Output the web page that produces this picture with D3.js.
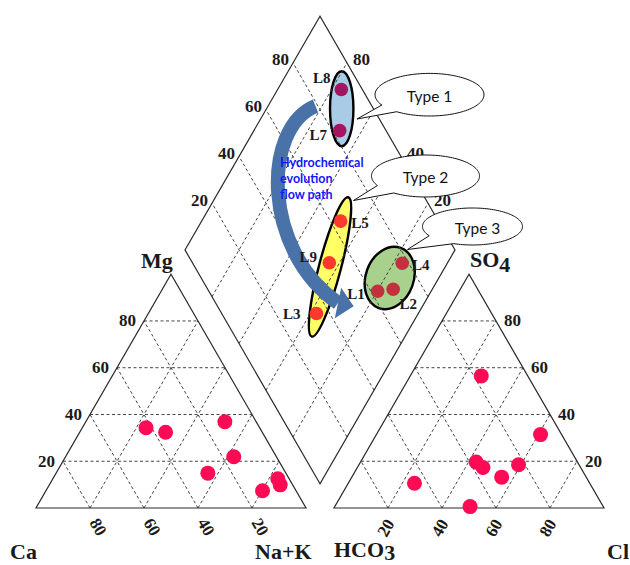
<!DOCTYPE html>
<html>
<head>
<meta charset="utf-8">
<script src="https://cdn.jsdelivr.net/npm/d3@7"></script>
<style>
  html, body { margin: 0; padding: 0; background: #fff; }
  svg { display: block; }
</style>
</head>
<body>
<svg id="chart" width="630" height="565"></svg>
<script>
// ---- sample chemistry (% of meq/L) ----
const samples = ["L1", "L2", "L3", "L4", "L5", "L7", "L8", "L9"];
const waterType = [3, 3, 2, 3, 2, 1, 1, 2];
// cations
const ca  = [12.4,  4.6, 15.8,  4.2, 11.6, 35.8, 42.1, 28.9];
const mg  = [ 7.4,  9.9, 21.9, 12.5, 36.9, 32.4, 34.3, 14.9];
const naK = [80.2, 85.5, 62.3, 83.3, 51.5, 31.8, 23.6, 56.2];
// anions
const hco3 = [37.5, 31.3, 64.9, 22.4, 36.2, 17.2,  7.8, 49.3];
const so4  = [19.7, 13.2, 10.6, 18.5, 17.3, 56.5, 31.4,  0.6];
const cl   = [42.8, 55.5, 24.5, 59.1, 46.5, 26.3, 60.8, 50.1];

const gridTicks = [20, 40, 60, 80];
const typeNames = ["Type 1", "Type 2", "Type 3"];
const flowText = ["Hydrochemical", "evolution", "flow path"];

// ---- layout ----
const svg = d3.select("#chart");
const S = 270, R3 = Math.sqrt(3) / 2;
const baseY = 508, catX0 = 36, anX0 = 334, midX = 320;
const gap = anX0 - (catX0 + S);
const dBotY = baseY - (gap / 2) * Math.sqrt(3);
const pct = d3.scaleLinear().domain([0, 100]).range([0, S]);

const catPos = (c, m, n) => [catX0 + pct(n) + pct(m) / 2, baseY - pct(m) * R3];
const anPos  = (h, s, c) => [anX0 + pct(c) + pct(s) / 2, baseY - pct(s) * R3];
const dPos   = (a, b) => [midX + (pct(b) - pct(a)) / 2, dBotY - (pct(a) + pct(b)) * R3];

const serif = "'Liberation Serif', 'Times New Roman', serif";
const sans = "Lato, 'Open Sans', sans-serif";
const line = d3.line();

const pts = samples.map((s, i) => ({
  id: s, type: waterType[i],
  cat: catPos(ca[i], mg[i], naK[i]),
  an: anPos(hco3[i], so4[i], cl[i]),
  dia: dPos(ca[i] + mg[i], so4[i] + cl[i])
}));

// ---- water-type zones in the diamond ----
const zoneStyle = {
  1: { fill: "#a9cbe6", rx: 11.7, ry: 37.5, angle: 0,    dx: 1.2,  dy: -1.4 },
  2: { fill: "#ffff66", rx: 11,   ry: 72,   angle: 14.7, dx: 1.2,  dy: 1.1 },
  3: { fill: "#a9d18e", rx: 24,   ry: 32,   angle: 20,   dx: -1.3, dy: -3.3 }
};
const zones = svg.append("g");
[1, 2, 3].forEach(t => {
  const g = pts.filter(p => p.type === t);
  const cx = d3.mean(g, p => p.dia[0]) + zoneStyle[t].dx;
  const cy = d3.mean(g, p => p.dia[1]) + zoneStyle[t].dy;
  zones.append("ellipse")
    .attr("transform", `translate(${cx},${cy}) rotate(${zoneStyle[t].angle})`)
    .attr("rx", zoneStyle[t].rx).attr("ry", zoneStyle[t].ry)
    .attr("fill", zoneStyle[t].fill)
    .attr("stroke", "#000").attr("stroke-width", 2.4);
});

// ---- dashed grids ----
const grid = svg.append("g")
  .attr("stroke", "#444").attr("stroke-width", 1)
  .attr("stroke-dasharray", "3,2.5").attr("fill", "none");
gridTicks.forEach(v => {
  // cation triangle
  grid.append("path").attr("d", line([catPos(100 - v, v, 0), catPos(0, v, 100 - v)]));
  grid.append("path").attr("d", line([catPos(100 - v, 0, v), catPos(0, 100 - v, v)]));
  grid.append("path").attr("d", line([catPos(v, 0, 100 - v), catPos(v, 100 - v, 0)]));
  // anion triangle
  grid.append("path").attr("d", line([anPos(100 - v, v, 0), anPos(0, v, 100 - v)]));
  grid.append("path").attr("d", line([anPos(100 - v, 0, v), anPos(0, 100 - v, v)]));
  grid.append("path").attr("d", line([anPos(v, 0, 100 - v), anPos(v, 100 - v, 0)]));
  // diamond
  grid.append("path").attr("d", line([dPos(v, 0), dPos(v, 100)]));
  grid.append("path").attr("d", line([dPos(0, v), dPos(100, v)]));
});

// ---- outlines ----
const frame = svg.append("g").attr("stroke", "#2b2b2b").attr("stroke-width", 1.2).attr("fill", "none");
frame.append("path").attr("d", line([catPos(100, 0, 0), catPos(0, 0, 100), catPos(0, 100, 0)]) + "Z");
frame.append("path").attr("d", line([anPos(100, 0, 0), anPos(0, 0, 100), anPos(0, 100, 0)]) + "Z");
frame.append("path").attr("d", line([dPos(0, 0), dPos(100, 0), dPos(100, 100), dPos(0, 100)]) + "Z");

// ---- sample points ----
const triColor = "#ff0a55";
const typeColor = { 1: "#a3155f", 2: "#ff3a2c", 3: "#c3303e" };
svg.append("g").selectAll("circle").data(pts).join("circle")
  .attr("cx", d => d.cat[0]).attr("cy", d => d.cat[1]).attr("r", 7.5).attr("fill", triColor);
svg.append("g").selectAll("circle").data(pts).join("circle")
  .attr("cx", d => d.an[0]).attr("cy", d => d.an[1]).attr("r", 7.5).attr("fill", triColor);
svg.append("g").selectAll("circle").data(pts).join("circle")
  .attr("cx", d => d.dia[0]).attr("cy", d => d.dia[1]).attr("r", 6.8)
  .attr("fill", d => typeColor[d.type]);

// ---- evolution arrow ----
const arrowColor = "#4872a8";
const a0 = [315.5, 106], c1 = [262, 128], c2 = [262, 250], a3 = [338, 303];
const bend = d3.path();
bend.moveTo(...a0);
bend.bezierCurveTo(...c1, ...c2, ...a3);
svg.append("path").attr("d", bend.toString())
  .attr("fill", "none").attr("stroke", arrowColor).attr("stroke-width", 14);
const headAng = 12 * Math.PI / 180;
const u = [Math.cos(headAng), Math.sin(headAng)], nrm = [-u[1], u[0]];
svg.append("path")
  .attr("d", line([
    [a3[0] - 15.5 * nrm[0], a3[1] - 15.5 * nrm[1]],
    [a3[0] + 16 * u[0], a3[1] + 16 * u[1]],
    [a3[0] + 15.5 * nrm[0], a3[1] + 15.5 * nrm[1]]
  ]) + "Z")
  .attr("fill", arrowColor);

// ---- sample labels ----
const labelOffset = {
  L1: [-21.6, 3], L2: [15, 15], L3: [-24.8, 0], L4: [18.5, 1.7],
  L5: [19.3, 2], L7: [-21.4, 4.3], L8: [-19.6, -11.3], L9: [-21, -5.5]
};
svg.append("g").selectAll("text").data(pts).join("text")
  .attr("x", d => d.dia[0] + labelOffset[d.id][0])
  .attr("y", d => d.dia[1] + labelOffset[d.id][1])
  .attr("text-anchor", "middle").attr("dominant-baseline", "central")
  .attr("font-family", serif).attr("font-weight", "bold").attr("font-size", 15)
  .attr("fill", "#1a1a1a")
  .text(d => d.id);

// ---- tick labels ----
const ticks = svg.append("g")
  .attr("font-family", serif).attr("font-weight", "bold").attr("font-size", 17).attr("fill", "#1a1a1a");
gridTicks.forEach(v => {
  // Mg on left side of cation triangle
  let p = catPos(100 - v, v, 0);
  ticks.append("text").attr("x", p[0] - 8).attr("y", p[1]).attr("text-anchor", "end")
    .attr("dominant-baseline", "central").text(v);
  // Ca along cation base
  p = catPos(v, 0, 100 - v);
  ticks.append("text").attr("transform", `translate(${p[0] + 8},${baseY + 19}) rotate(60)`)
    .attr("text-anchor", "middle").attr("dominant-baseline", "central").text(v);
  // SO4 on right side of anion triangle
  p = anPos(0, v, 100 - v);
  ticks.append("text").attr("x", p[0] + 8).attr("y", p[1]).attr("text-anchor", "start")
    .attr("dominant-baseline", "central").text(v);
  // Cl along anion base
  p = anPos(100 - v, 0, v);
  ticks.append("text").attr("transform", `translate(${p[0] - 2},${baseY + 20}) rotate(-60)`)
    .attr("text-anchor", "middle").attr("dominant-baseline", "central").text(v);
  // diamond upper-left edge
  p = dPos(100, v);
  ticks.append("text").attr("x", p[0] - 4).attr("y", p[1] - 3).attr("text-anchor", "end")
    .attr("dominant-baseline", "central").text(v);
  // diamond upper-right edge
  p = dPos(v, 100);
  ticks.append("text").attr("x", p[0] + 6).attr("y", p[1] - 3).attr("text-anchor", "start")
    .attr("dominant-baseline", "central").text(v);
});

// ---- corner names ----
const names = svg.append("g")
  .attr("font-family", serif).attr("font-weight", "bold").attr("font-size", 22).attr("fill", "#1a1a1a");
names.append("text").attr("x", 157).attr("y", 268).attr("text-anchor", "middle").text("Mg");
const so4Label = names.append("text").attr("x", 470).attr("y", 267);
so4Label.append("tspan").text("SO");
so4Label.append("tspan").attr("dy", 5).text("4");
names.append("text").attr("x", 10).attr("y", 559).text("Ca");
names.append("text").attr("x", 255).attr("y", 559).text("Na+K");
const hcoLabel = names.append("text").attr("x", 334).attr("y", 557);
hcoLabel.append("tspan").text("HCO");
hcoLabel.append("tspan").attr("dy", 2.5).text("3");
names.append("text").attr("x", 607).attr("y", 559).text("Cl");

// ---- flow path caption ----
svg.append("g").selectAll("text").data(flowText).join("text")
  .attr("x", 280).attr("y", (d, i) => 166.5 + i * 16)
  .attr("font-family", sans).attr("font-weight", "bold").attr("font-size", 12.5)
  .attr("fill", "#1515ff").text(d => d);

// ---- callouts ----
const callouts = [
  { cx: 429.5, cy: 94.7,  rx: 54.5, ry: 21.3, a1: 151, a2: 127, tip: [357, 119],     tx: 0 },
  { cx: 425.5, cy: 176,   rx: 54,   ry: 21,   a1: 153, a2: 126, tip: [353.5, 200.5], tx: 0 },
  { cx: 472.5, cy: 226.5, rx: 50,   ry: 18.5, a1: 150, a2: 112, tip: [407.5, 249.5], tx: 5 }
];
function calloutPath(c) {
  const t1 = c.a1 * Math.PI / 180, t2 = c.a2 * Math.PI / 180 + 2 * Math.PI;
  const ring = d3.range(0, 121).map(i => {
    const t = t1 + (t2 - t1) * i / 120;
    return [c.cx + c.rx * Math.cos(t), c.cy + c.ry * Math.sin(t)];
  });
  ring.push(c.tip);
  return line(ring) + "Z";
}
const co = svg.append("g");
callouts.forEach((c, i) => {
  co.append("path").attr("d", calloutPath(c))
    .attr("fill", "#fff").attr("stroke", "#111").attr("stroke-width", 1);
  co.append("text").attr("x", c.cx + c.tx).attr("y", c.cy + 1)
    .attr("text-anchor", "middle").attr("dominant-baseline", "central")
    .attr("font-family", sans).attr("font-size", 15.5).attr("fill", "#111")
    .text(typeNames[i]);
});
</script>
</body>
</html>
